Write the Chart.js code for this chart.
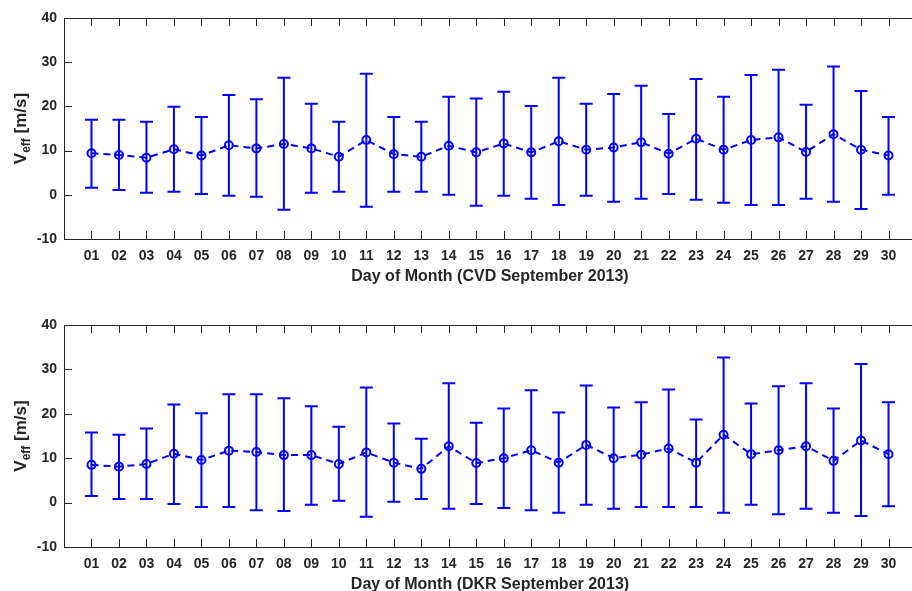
<!DOCTYPE html>
<html>
<head>
<meta charset="utf-8">
<script src="https://cdn.jsdelivr.net/npm/chart.js@4.4.1/dist/chart.umd.min.js"></script>
<style>
  html, body { margin: 0; padding: 0; background: #fff; }
  body { width: 912px; height: 591px; overflow: hidden; position: relative; }
  .panel { position: absolute; left: 0; width: 922px; height: 300px; }
</style>
</head>
<body>
<div class="panel" style="top:0px"><canvas id="cvd" width="922" height="300"></canvas></div>
<div class="panel" style="top:308px"><canvas id="dkr" width="922" height="300"></canvas></div>

<script>
// day of month (September 2013)
const days = [1, 2, 3, 4, 5, 6, 7, 8, 9, 10, 11, 12, 13, 14, 15, 16, 17, 18, 19, 20, 21, 22, 23, 24, 25, 26, 27, 28, 29, 30];
const yTicks = [-10, 0, 10, 20, 30, 40];

// CVD station: mean Veff and error bar ends [m/s]
const cvdMean  = [9.4, 9.0, 8.4, 10.3, 8.9, 11.2, 10.5, 11.5, 10.5, 8.6, 12.4, 9.2, 8.6, 11.1, 9.6, 11.6, 9.6, 12.1, 10.2, 10.7, 11.9, 9.3, 12.7, 10.2, 12.4, 13.0, 9.7, 13.7, 10.2, 8.9];
const cvdUpper = [17.0, 17.0, 16.5, 19.9, 17.6, 22.6, 21.6, 26.5, 20.6, 16.5, 27.4, 17.6, 16.5, 22.2, 21.8, 23.3, 20.1, 26.5, 20.6, 22.8, 24.7, 18.3, 26.2, 22.2, 27.1, 28.3, 20.4, 29.0, 23.5, 17.6];
const cvdLower = [1.6, 1.1, 0.45, 0.7, 0.2, -0.2, -0.45, -3.4, 0.45, 0.7, -2.7, 0.7, 0.7, 0.0, -2.5, -0.2, -0.9, -2.3, -0.2, -1.6, -0.9, 0.2, -1.1, -1.8, -2.3, -2.3, -0.9, -1.6, -3.2, 0.0];

// DKR station
const dkrMean  = [8.5, 8.1, 8.7, 11.0, 9.6, 11.7, 11.4, 10.7, 10.7, 8.7, 11.3, 9.0, 7.6, 12.7, 8.9, 10.0, 11.8, 9.0, 13.0, 10.0, 10.8, 12.2, 9.0, 15.3, 10.9, 11.8, 12.7, 9.4, 14.0, 10.9];
const dkrUpper = [15.8, 15.3, 16.7, 22.1, 20.1, 24.4, 24.4, 23.5, 21.7, 17.1, 25.9, 17.8, 14.4, 26.9, 18.0, 21.2, 25.3, 20.3, 26.4, 21.4, 22.6, 25.5, 18.7, 32.7, 22.3, 26.2, 26.9, 21.2, 31.2, 22.6];
const dkrLower = [1.5, 0.8, 0.8, -0.3, -1.0, -1.0, -1.7, -1.9, -0.5, 0.4, -3.2, 0.2, 0.8, -1.4, -0.3, -1.2, -1.7, -2.3, -0.5, -1.4, -1.0, -1.0, -1.0, -2.3, -0.5, -2.6, -1.4, -2.3, -3.0, -0.8];

const BLUE = '#0000ff';
const AXIS = '#262626';
const FONT = "'Liberation Sans', Arial, Helvetica, sans-serif";

// error bars (vertical line + caps), drawn under the markers
const errorBars = {
  id: 'errorBars',
  beforeDatasetsDraw(chart, args, opts) {
    const { ctx, scales: { x, y } } = chart;
    ctx.save();
    ctx.strokeStyle = BLUE;
    ctx.lineWidth = 2;
    ctx.setLineDash([]);
    opts.lower.forEach((lo, i) => {
      const px = x.getPixelForValue(days[i]);
      const y1 = y.getPixelForValue(lo);
      const y2 = y.getPixelForValue(opts.upper[i]);
      ctx.beginPath();
      ctx.moveTo(px, y1); ctx.lineTo(px, y2);
      ctx.moveTo(px - 6.5, y1); ctx.lineTo(px + 6.5, y1);
      ctx.moveTo(px - 6.5, y2); ctx.lineTo(px + 6.5, y2);
      ctx.stroke();
    });
    ctx.restore();
  }
};

// matlab style box with inward ticks + y label with subscript
const axesBox = {
  id: 'axesBox',
  afterDraw(chart) {
    const { ctx, chartArea: a, scales: { x, y } } = chart;
    ctx.save();
    ctx.strokeStyle = AXIS;
    ctx.lineWidth = 1;
    ctx.beginPath();
    ctx.moveTo(a.left + 0.5, a.top + 0.5); ctx.lineTo(a.right, a.top + 0.5);
    ctx.moveTo(a.left + 0.5, a.top); ctx.lineTo(a.left + 0.5, a.bottom + 0.5);
    ctx.moveTo(a.left, a.bottom + 0.5); ctx.lineTo(a.right, a.bottom + 0.5);
    days.forEach(d => {
      const px = Math.round(x.getPixelForValue(d)) + 0.5;
      ctx.moveTo(px, a.bottom); ctx.lineTo(px, a.bottom - 8);
      ctx.moveTo(px, a.top); ctx.lineTo(px, a.top + 8);
    });
    yTicks.forEach(v => {
      const py = Math.round(y.getPixelForValue(v)) + 0.5;
      ctx.moveTo(a.left, py); ctx.lineTo(a.left + 8, py);
    });
    ctx.stroke();

    // V_eff [m/s]
    ctx.translate(26, (a.top + a.bottom) / 2);
    ctx.rotate(-Math.PI / 2);
    ctx.fillStyle = AXIS;
    ctx.textBaseline = 'alphabetic';
    const big = 'bold 17px ' + FONT;
    const small = 'bold 12px ' + FONT;
    ctx.font = big;
    const wV = ctx.measureText('V').width;
    const wRest = ctx.measureText(' [m/s]').width;
    ctx.font = small;
    const wSub = ctx.measureText('eff').width;
    let cx = -(wV + wSub + wRest) / 2;
    ctx.font = big;
    ctx.fillText('V', cx, 0);
    cx += wV;
    ctx.font = small;
    ctx.fillText('eff', cx, 4);
    cx += wSub;
    ctx.font = big;
    ctx.fillText(' [m/s]', cx, 0);
    ctx.restore();
  }
};

function makeChart(canvasId, mean, lower, upper, xTitle, padTop) {
  const data = {
    datasets: [{
      data: days.map((d, i) => ({ x: d, y: mean[i] })),
      borderColor: BLUE,
      borderWidth: 2,
      borderDash: [7, 5],
      pointStyle: 'circle',
      pointRadius: 4,
      pointBorderWidth: 2,
      pointBorderColor: BLUE,
      pointBackgroundColor: 'rgba(0,0,0,0)',
      fill: false,
      tension: 0
    }]
  };

  const options = {
    responsive: false,
    animation: false,
    devicePixelRatio: 1,
    layout: { padding: { top: padTop, right: 0, bottom: 0, left: 0 } },
    plugins: {
      legend: { display: false },
      tooltip: { enabled: false },
      errorBars: { lower, upper }
    },
    scales: {
      x: {
        type: 'linear',
        min: 0,
        max: 31,
        afterBuildTicks: (scale) => { scale.ticks = days.map(v => ({ value: v })); },
        afterFit: (scale) => { scale.height = 61; },
        grid: { display: false, drawTicks: false },
        border: { display: false },
        ticks: {
          autoSkip: false,
          maxRotation: 0,
          padding: 9,
          color: AXIS,
          font: { family: FONT, size: 14, weight: 'bold' },
          callback: (v) => String(v).padStart(2, '0')
        },
        title: {
          display: true,
          text: xTitle,
          color: AXIS,
          font: { family: FONT, size: 16, weight: 'bold' },
          padding: { top: 0, bottom: 14 }
        }
      },
      y: {
        min: -10,
        max: 40,
        afterBuildTicks: (scale) => { scale.ticks = yTicks.map(v => ({ value: v })); },
        afterFit: (scale) => { scale.width = 64; },
        grid: { display: false, drawTicks: false },
        border: { display: false },
        ticks: {
          padding: 7,
          color: AXIS,
          font: { family: FONT, size: 14, weight: 'bold' }
        }
      }
    }
  };

  return new Chart(document.getElementById(canvasId), {
    type: 'line',
    data,
    options,
    plugins: [errorBars, axesBox]
  });
}

makeChart('cvd', cvdMean, cvdLower, cvdUpper, 'Day of Month (CVD September 2013)', 18);
makeChart('dkr', dkrMean, dkrLower, dkrUpper, 'Day of Month (DKR September 2013)', 17);
</script>
</body>
</html>
